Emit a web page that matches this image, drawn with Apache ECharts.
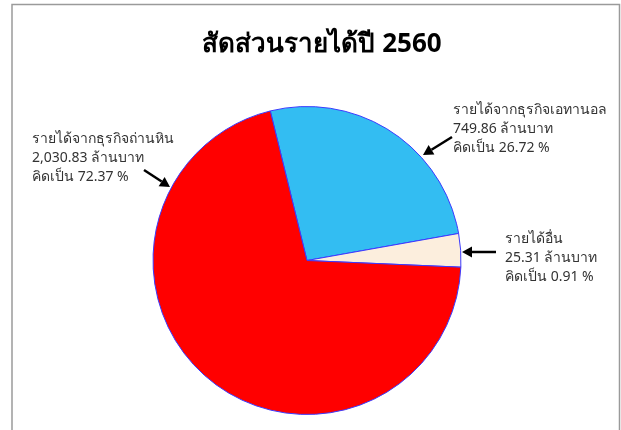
<!DOCTYPE html>
<html>
<head>
<meta charset="utf-8">
<script src="https://cdn.jsdelivr.net/npm/echarts@6/dist/echarts.min.js"></script>
<style>html,body{margin:0;padding:0;background:#fff}#c{width:621px;height:430px}</style>
</head>
<body>
<div id="c"></div>
<script>
var titleText = 'สัดส่วนรายได้ปี 2560';
var categories = ['รายได้จากธุรกิจเอทานอล', 'รายได้อื่น', 'รายได้จากธุรกิจถ่านหิน'];
var amounts = [749.86, 25.31, 2030.83];
var percents = [26.72, 0.91, 72.37];
var colors = ['#33BDF2', '#FCEEDD', '#FF0000'];

var labelPos = [
  {x: 453, y: 101},
  {x: 505, y: 230},
  {x: 32, y: 130}
];
var FONT = 'Tahoma, "Noto Sans", "DejaVu Sans", sans-serif';

function fmt(v) {
  return v.toLocaleString('en-US', {minimumFractionDigits: 2, maximumFractionDigits: 2});
}

function arrow(x1, y1, x2, y2) {
  var ang = Math.atan2(y2 - y1, x2 - x1);
  var L = 10, W = 5.5;
  var bx = x2 - L * Math.cos(ang), by = y2 - L * Math.sin(ang);
  var px = -Math.sin(ang), py = Math.cos(ang);
  return [
    {type: 'line', shape: {x1: x1, y1: y1, x2: bx, y2: by}, style: {stroke: '#000', lineWidth: 2.5}, z: 100},
    {type: 'polygon', shape: {points: [[x2, y2], [bx + px * W, by + py * W], [bx - px * W, by - py * W]]}, style: {fill: '#000'}, z: 100}
  ];
}

var graphics = [
  {type: 'rect', shape: {x: 12, y: 4.5, width: 607.5, height: 440}, style: {fill: 'none', stroke: '#9a9a9a', lineWidth: 1.5}, z: 0}
].concat(arrow(144, 170, 170, 187), arrow(452, 137, 423, 155), arrow(496, 252, 462, 252));

var chart = echarts.init(document.getElementById('c'));
chart.setOption({
  animation: false,
  backgroundColor: '#fff',
  title: {
    text: titleText,
    left: 317,
    top: 27,
    textAlign: 'center',
    textStyle: {fontFamily: FONT, fontSize: 26, fontWeight: 'bold', color: '#000'}
  },
  graphic: graphics,
  series: [{
    type: 'pie',
    center: [307, 260.5],
    radius: 154,
    startAngle: 103.8,
    minAngle: 12.6,
    clockwise: true,
    avoidLabelOverlap: false,
    itemStyle: {borderColor: '#3b3bff', borderWidth: 1},
    emphasis: {disabled: true},
    label: {
      show: true,
      position: 'outside',
      fontFamily: FONT,
      fontSize: 14,
      lineHeight: 19,
      color: '#333333',
      formatter: function (p) {
        var i = p.dataIndex;
        return categories[i] + '\n' + fmt(amounts[i]) + ' ล้านบาท\nคิดเป็น ' + percents[i].toFixed(2) + ' %';
      }
    },
    labelLine: {show: false},
    labelLayout: function (p) {
      var pos = labelPos[p.dataIndex];
      return {x: pos.x, y: pos.y, align: 'left', verticalAlign: 'top', moveOverlap: false};
    },
    data: categories.map(function (c, i) {
      return {name: c, value: amounts[i], itemStyle: {color: colors[i]}};
    })
  }]
});
</script>
</body>
</html>
